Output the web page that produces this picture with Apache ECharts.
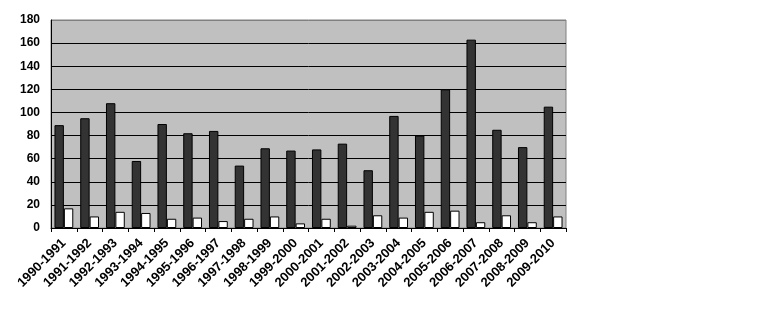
<!DOCTYPE html>
<html>
<head>
<meta charset="utf-8">
<script src="https://cdn.jsdelivr.net/npm/echarts@6/dist/echarts.min.js"></script>
<style>html,body{margin:0;padding:0;background:#fff}#c{width:775px;height:315px}</style>
</head>
<body>
<div id="c"></div>
<script>
const categories = ['1990-1991','1991-1992','1992-1993','1993-1994','1994-1995','1995-1996','1996-1997','1997-1998','1998-1999','1999-2000','2000-2001','2001-2002','2002-2003','2003-2004','2004-2005','2005-2006','2006-2007','2007-2008','2008-2009','2009-2010'];
const seriesDark = [89,95,108,58,90,82,84,54,69,67,68,73,50,97,80,120,163,85,70,105];
const seriesWhite = [17,10,14,13,8,9,6,8,10,4,8,2,11,9,14,15,5,11,5,10];
const yTicks = {min:0, max:180, interval:20};

const chart = echarts.init(document.getElementById('c'));
chart.setOption({
  animation:false,
  grid:{left:51,right:209,top:20,bottom:87,show:true,backgroundColor:'#c0c0c0',borderColor:'#808080',borderWidth:1},
  xAxis:{
    type:'category', data:categories, boundaryGap:true,
    axisLine:{lineStyle:{color:'#000',width:1}},
    axisTick:{show:true,length:4,lineStyle:{color:'#000'}},
    axisLabel:{rotate:45,margin:13,fontFamily:'Liberation Sans, Arial',fontWeight:'bold',fontSize:13,color:'#000',interval:0}
  },
  yAxis:{
    type:'value', min:yTicks.min, max:yTicks.max, interval:yTicks.interval,
    axisLine:{show:true,lineStyle:{color:'#000',width:1}},
    axisTick:{show:false},
    axisLabel:{margin:11,fontFamily:'Liberation Sans, Arial',fontWeight:'bold',fontSize:12,color:'#000'},
    splitLine:{show:true,lineStyle:{color:['#000','#000','#000','#000','#000','#000','#000','#000','#000','#808080'],width:1}}
  },
  series:[
    {type:'bar',data:seriesDark,barGap:'0%',barCategoryGap:'27%',itemStyle:{color:'#333333',borderColor:'#000',borderWidth:1}},
    {type:'bar',data:seriesWhite,itemStyle:{color:'#ffffff',borderColor:'#000',borderWidth:1}}
  ]
});
</script>
</body>
</html>
